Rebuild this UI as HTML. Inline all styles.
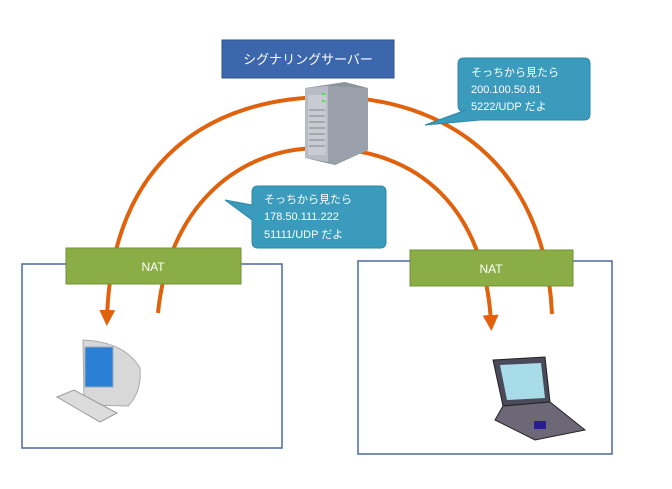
<!DOCTYPE html>
<html><head><meta charset="utf-8"><style>
body{margin:0;background:#fff;width:672px;height:484px;overflow:hidden;font-family:"Liberation Sans","Noto Sans CJK JP",sans-serif}
</style></head><body>
<svg width="672" height="484" viewBox="0 0 672 484" xmlns="http://www.w3.org/2000/svg" font-family="Liberation Sans, Noto Sans CJK JP, sans-serif">
<defs>
<marker id="ah" markerWidth="4" markerHeight="4" refX="2" refY="2" orient="auto" markerUnits="strokeWidth">
<path d="M0,0 L4,2 L0,4 Z" fill="#e0620d"/></marker>
</defs>
<rect x="22" y="264" width="260" height="184" fill="#fff" stroke="#4a6aa0" stroke-width="1.5"/>
<rect x="358" y="261" width="254" height="193" fill="#fff" stroke="#4a6aa0" stroke-width="1.5"/>
<!-- arcs -->
<path d="M552,314 C545,160 440,97 330,97 C210,97 112,160 107,318" fill="none" stroke="#e0620d" stroke-width="4" marker-end="url(#ah)"/>
<path d="M158,313 C168,210 235,148 320,148 C420,148 485,210 491,323" fill="none" stroke="#e0620d" stroke-width="4" marker-end="url(#ah)"/>
<!-- NAT -->
<rect x="66" y="248" width="175" height="36" fill="#8aad45" stroke="#739236"/>
<text x="153" y="271" font-size="12" fill="#fff" text-anchor="middle">NAT</text>
<rect x="410" y="250" width="163" height="36" fill="#8aad45" stroke="#739236"/>
<text x="491" y="273" font-size="12" fill="#fff" text-anchor="middle">NAT</text>
<!-- server label -->
<rect x="222" y="40" width="172" height="38" fill="#3d67ad" stroke="#2f528c"/>
<text x="308" y="64" font-size="13" fill="#fff" text-anchor="middle">シグナリングサーバー</text>
<!-- server icon -->
<polygon points="305,88 345,82 368,88 368,150 335,165 305,158" fill="#8d939c"/>
<polygon points="305,88 328,86 328,162 305,158" fill="#b7bcc4"/>
<polygon points="328,86 368,88 368,150 335,165 328,162" fill="#9aa0a9"/>
<rect x="308" y="95" width="18" height="60" fill="#c8ccd2"/>
<g stroke="#7d838c" stroke-width="1"><line x1="309" y1="110" x2="325" y2="110"/><line x1="309" y1="116" x2="325" y2="116"/><line x1="309" y1="122" x2="325" y2="122"/><line x1="309" y1="128" x2="325" y2="128"/><line x1="309" y1="134" x2="325" y2="134"/><line x1="309" y1="140" x2="325" y2="140"/><line x1="309" y1="146" x2="325" y2="146"/></g>
<rect x="322" y="93" width="3" height="2" fill="#4fe04f"/><rect x="322" y="100" width="3" height="2" fill="#4fe04f"/>
<!-- bubble right -->
<path d="M464,58 H584 Q590,58 590,64 V114 Q590,120 584,120 H480 L425,125 L466,110 Q458,114 458,104 V64 Q458,58 464,58 Z" fill="#3a9bbd" stroke="#2e87a7"/>
<text font-size="11" fill="#fff"><tspan x="471" y="76">そっちから見たら</tspan><tspan x="471" y="93">200.100.50.81</tspan><tspan x="471" y="110">5222/UDP だよ</tspan></text>
<!-- bubble left -->
<path d="M258,186 H380 Q386,186 386,192 V242 Q386,248 380,248 H258 Q252,248 252,242 V220 L225,200 L252,205 V192 Q252,186 258,186 Z" fill="#3a9bbd" stroke="#2e87a7"/>
<text font-size="11" fill="#fff"><tspan x="264" y="203">そっちから見たら</tspan><tspan x="264" y="220">178.50.111.222</tspan><tspan x="264" y="238">51111/UDP だよ</tspan></text>
<!-- desktop -->
<path d="M83,340 Q125,342 140,368 Q142,392 128,406 L90,405 L84,400 Z" fill="#d8d8d8" stroke="#aaa"/>
<rect x="85" y="347" width="28" height="40" fill="#2b7fd4" stroke="#9ab"/>
<polygon points="57,397 74,390 117,413 100,422" fill="#dcdcdc" stroke="#999"/>
<!-- laptop -->
<polygon points="493,360 545,357 550,402 503,406" fill="#4a4a5a" stroke="#222"/>
<polygon points="500,365 541,363 545,398 507,400" fill="#a8dce8"/>
<polygon points="503,406 550,402 585,430 535,440 495,420" fill="#6c6878" stroke="#222"/>
<rect x="534" y="421" width="12" height="8" fill="#2a1f8a"/>
</svg>
</body></html>
